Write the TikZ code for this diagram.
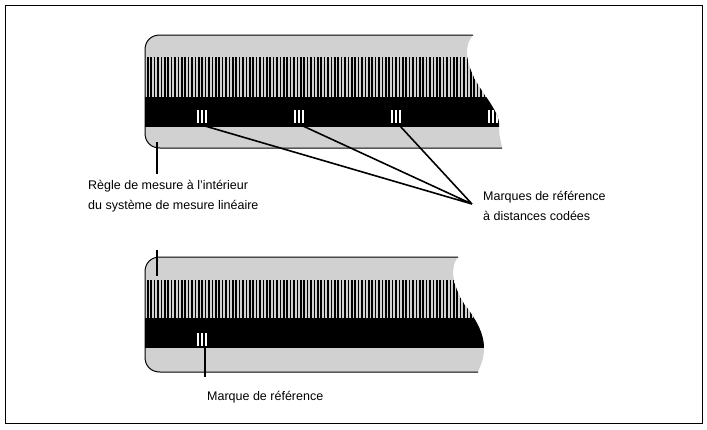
\documentclass[tikz,border=0pt]{standalone}
\usepackage{fontspec}
\setmainfont{Liberation Sans}
\begin{document}
\begin{tikzpicture}[x=1pt,y=-1pt,
  lbl/.style={inner sep=0pt,anchor=west,align=left,font=\fontsize{12.5}{20}\selectfont},
  lead/.style={line width=1.6pt},
  gr/.style={fill=black!18}]
\useasboundingbox (0,0) rectangle (707,429);
\draw[line width=0.8pt] (5,5) rectangle (702,423);
% ---- top ruler
\def\topshape{(160,35) -- (473,35) .. controls (460,50) and (470,75) .. (485,95) .. controls (495,110) and (500,118) .. (499,127) .. controls (499,138) and (502,144) .. (502,148) -- (160,148) .. controls (151,148) and (145,142) .. (145,133) -- (145,50) .. controls (145,41) and (151,35) .. (160,35) -- cycle}
\fill[gr] \topshape;
\begin{scope}
\clip \topshape;
\fill[black] (140,97) rectangle (510,127);
\foreach \i in {0,...,105} \fill[black] ({147+\i*3.4},57) rectangle ++(1.6,40);
\fill[black] (371,57) rectangle ++(2.2,40);
\foreach \m in {197,294,391,488} \foreach \k in {0,4,8} \fill[white] ({\m+\k},110) rectangle ++(2,13);
\end{scope}
\draw[line width=1pt] (502,148) -- (160,148) .. controls (151,148) and (145,142) .. (145,133) -- (145,50) .. controls (145,41) and (151,35) .. (160,35) -- (473,35);
% ---- bottom ruler
\def\botshape{(160,257) -- (458,257) .. controls (448,270) and (455,290) .. (465,305) .. controls (478,322) and (484,335) .. (484,348) .. controls (484,360) and (480,366) .. (478,372) -- (160,372) .. controls (151,372) and (145,366) .. (145,357) -- (145,272) .. controls (145,263) and (151,257) .. (160,257) -- cycle}
\fill[gr] \botshape;
\begin{scope}
\clip \botshape;
\fill[black] (140,318) rectangle (510,348);
\foreach \i in {0,...,105} \fill[black] ({147+\i*3.4},280) rectangle ++(1.6,38);
\fill[black] (371,280) rectangle ++(2.2,38);
\foreach \k in {0,4,8} \fill[white] ({197+\k},333) rectangle ++(2,13);
\end{scope}
\draw[line width=1pt] (478,372) -- (160,372) .. controls (151,372) and (145,366) .. (145,357) -- (145,272) .. controls (145,263) and (151,257) .. (160,257) -- (458,257);
% ---- labels
\node[lbl] (regle) at (88,196) {Règle de mesure à l'intérieur\\du système de mesure linéaire};
\node[lbl] (marques) at (483,206) {Marques de référence\\à distances codées};
\node[lbl] (marque) at (207,397) {Marque de référence};
\coordinate (m1) at (205,126);
\coordinate (m2) at (303,126);
\coordinate (m3) at (400,126);
\coordinate (conv) at (472,204);
\draw[lead] (m1) -- (conv) (m2) -- (conv) (m3) -- (conv);
\draw[lead] (157,142) -- (157,174);
\draw[lead] (157,250) -- (157,276);
\draw[lead] (205,346) -- (205,377);
\end{tikzpicture}
\end{document}
